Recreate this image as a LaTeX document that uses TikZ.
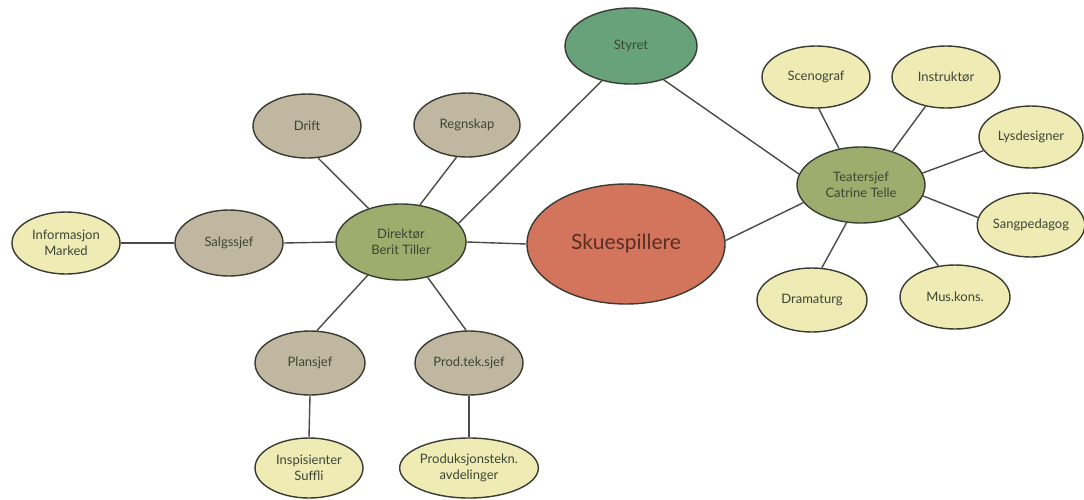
\documentclass[tikz,border=0pt]{standalone}
\usepackage{fontspec}
\setmainfont{Lato}
\usetikzlibrary{shapes.geometric}
\definecolor{edgec}{HTML}{3A3B33}
\definecolor{linec}{HTML}{4A4A46}
\definecolor{txtc}{HTML}{3E4536}
\definecolor{boardc}{HTML}{68A27A}
\definecolor{olivec}{HTML}{9DAD6D}
\definecolor{greigec}{HTML}{BFB79F}
\definecolor{palec}{HTML}{EEECB4}
\definecolor{actc}{HTML}{D3745C}
\definecolor{acttxt}{HTML}{5A2E24}
\begin{document}
\begin{tikzpicture}[x=1pt,y=-1pt,
  bub/.style={ellipse, draw=edgec, line width=1.4pt, inner sep=0pt, align=center,
    font=\fontsize{13}{15.5}\selectfont, text=txtc},
  board/.style={bub, fill=boardc, minimum width=132pt, minimum height=76pt},
  head/.style={bub, fill=olivec, minimum width=130pt, minimum height=76pt},
  mid/.style={bub, fill=greigec, minimum width=108pt, minimum height=64pt},
  leaf/.style={bub, fill=palec, minimum width=108pt, minimum height=62pt},
  actors/.style={bub, fill=actc, minimum width=198pt, minimum height=120pt,
    font=\fontsize{21}{24}\selectfont, text=acttxt},
  conn/.style={draw=linec, line width=1.4pt}]
\useasboundingbox (0,0) rectangle (1084,499);
% nodes
\node[board] (sty) at (631,46) {Styret};
\node[actors] (sku) at (626,244) {Skuespillere};
\node[head] (dir) at (401,242) {Direktør\\Berit Tiller};
\node[head, minimum width=128pt] (tea) at (861,185) {Teatersjef\\Catrine Telle};
\node[mid] (dri) at (307,126) {Drift};
\node[mid, minimum width=106pt] (reg) at (467,125) {Regnskap};
\node[mid, minimum height=66pt] (sal) at (229,243) {Salgssjef};
\node[leaf] (inf) at (66,243) {Informasjon\\Marked};
\node[mid, minimum width=110pt] (pla) at (310,363) {Plansjef};
\node[mid] (pro) at (469,363) {Prod.tek.sjef};
\node[leaf, minimum height=60pt] (ins) at (309,468) {Inspisienter\\Suffli};
\node[leaf, minimum height=60pt] (avd) at (469,468) {Produksjonstekn.\\avdelinger};
\node[leaf] (sce) at (816,77) {Scenograf};
\node[leaf] (ist) at (946,77) {Instruktør};
\node[leaf, minimum width=104pt] (lys) at (1031,137) {Lysdesigner};
\node[leaf, minimum width=106pt, minimum height=64pt] (san) at (1031,225) {Sangpedagog};
\node[leaf, minimum width=110pt, minimum height=64pt] (mus) at (955,297) {Mus.kons.};
\node[leaf, minimum width=110pt, minimum height=64pt] (dra) at (812,300) {Dramaturg};
% connectors
\draw[conn] (inf.east) -- (sal.west);
\draw[conn] (sal.east) -- (dir.west);
\draw[conn] (dir.east) -- (sku.west);
\draw[conn] (dir.134) -- (dri.-71);
\draw[conn] (dir.63) -- (reg.252);
\draw[conn] (dir.18) -- (sty.230);
\draw[conn] (dir.225) -- (pla.78);
\draw[conn] (dir.-53) -- (pro.95);
\draw[conn] (pla.south) -- (ins.north);
\draw[conn] (pro.south) -- (avd.north);
\draw[conn] (sty.-46) -- (tea.170);
\draw[conn] (sku.2) -- (tea.197);
\draw[conn] (tea.121) -- (sce.-85);
\draw[conn] (tea.47) -- (ist.235);
\draw[conn] (tea.11) -- (lys.196);
\draw[conn] (tea.-10) -- (san.172);
\draw[conn] (tea.-40) -- (mus.118);
\draw[conn] (tea.249) -- (dra.73);
\end{tikzpicture}
\end{document}
